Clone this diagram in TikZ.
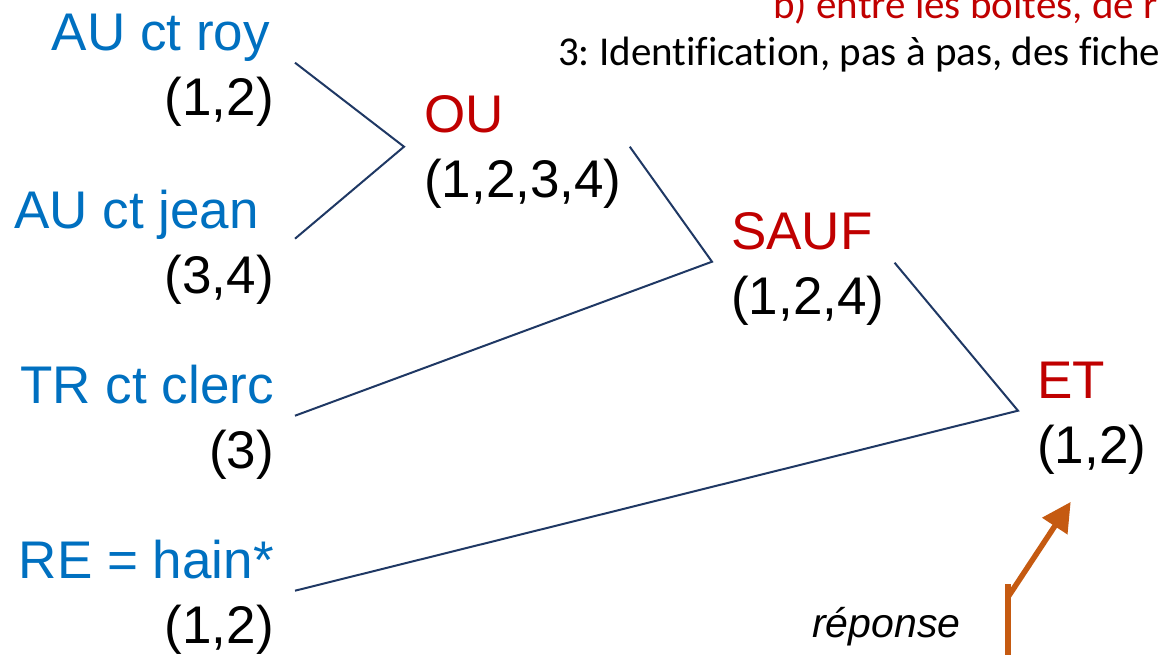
\documentclass[tikz,border=0pt]{standalone}
\usepackage{fontspec}
\setmainfont{Liberation Sans}
\newfontfamily\calibri[Ligatures=NoCommon]{Carlito}
\usetikzlibrary{arrows.meta}
\frenchspacing

\definecolor{critbleu}{HTML}{0070C0}
\definecolor{oprouge}{HTML}{C00000}
\definecolor{liennavy}{HTML}{1F3864}
\definecolor{repbrun}{HTML}{C55A11}
\newcommand{\gros}{\fontsize{53}{65}\selectfont}
\newcommand{\titrefont}{\calibri\fontsize{41}{49}\selectfont}

\begin{document}
\begin{tikzpicture}[x=1pt, y=-1pt,
  critere/.style={anchor=north east, align=right, inner sep=0pt, font=\gros},
  operateur/.style={anchor=north west, align=left, inner sep=0pt, font=\gros},
  titre/.style={anchor=base west, inner sep=0pt, font=\titrefont},
  lien/.style={draw=liennavy, line width=2pt},
  reponse/.style={draw=repbrun, line width=5.5pt}]

\useasboundingbox (0,0) rectangle (1158,654);
\clip (0,0) rectangle (1158,654);

\path (773,18) node[titre, text=oprouge] (titreb) {b) entre les boîtes, de r}
      (558,65) node[titre] (titre3) {3: Identification, pas à pas, des fiche};

% criteres de recherche
\node[critere] (roy) at (274,4.5) {\textcolor{critbleu}{AU ct roy}\hspace{4pt}\strut\\(1,2)\strut};
\node[critere] (jean) at (274,182.5) {\textcolor{critbleu}{AU ct jean}\hspace{15pt}\strut\\(3,4)\strut};
\node[critere] (clerc) at (274,357.5) {\textcolor{critbleu}{TR ct clerc}\strut\\(3)\strut};
\node[critere] (hain) at (274,532.5) {\textcolor{critbleu}{RE = hain*}\strut\\(1,2)\strut};

% operateurs
\node[operateur] (ou) at (424,86.5) {\textcolor{oprouge}{OU}\strut\\(1,2,3,4)\strut};
\node[operateur] (sauf) at (731,203.5) {\textcolor{oprouge}{SAUF}\strut\\(1,2,4)\strut};
\node[operateur] (et) at (1037,352.5) {\textcolor{oprouge}{ET}\strut\\(1,2)\strut};

\begin{scope}[lien]
\draw ([shift={(21,-7)}]roy.east) -- ([shift={(-20,-5)}]ou.west) -- ([shift={(21,-9)}]jean.east);
\draw ([shift={(8,-5)}]ou.east) -- ([shift={(-19,-7)}]sauf.west) -- ([shift={(21,-7)}]clerc.east);
\draw ([shift={(10,-6)}]sauf.east) -- ([shift={(-19,-7)}]et.west) -- ([shift={(21,-7)}]hain.east);
\end{scope}

\coordinate (bas) at (1008,662);
\draw[reponse] (bas) -- ++(0,-78);
\draw[reponse, -{Triangle[length=29pt,width=29pt]}] ([shift={(0,-65)}]bas) -- ([shift={(-21,19)}]et.south);
\node[anchor=base west, inner sep=0pt, font=\fontsize{41}{49}\selectfont\itshape] (rep) at (812,637) {réponse};

\end{tikzpicture}
\end{document}
